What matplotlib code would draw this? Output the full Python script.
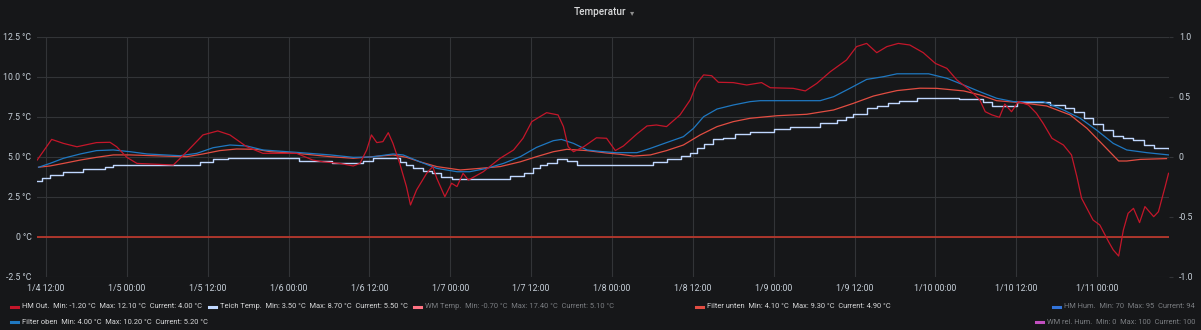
import matplotlib
matplotlib.use("Agg")
import matplotlib.pyplot as plt

# ---------------- data (hours since 1/4 00:00, °C) ----------------
hm_out_t = [10.7, 12.85, 14.6, 16.6, 19.5, 21.5, 22.5, 24.0, 25.5, 30.9, 32.9, 35.3, 37.5, 39.3,
            41.8, 44.2, 49.2, 51.6, 53.1, 55.6, 57.6, 58.6, 59.6, 60.3, 61.1, 62.0, 62.8, 63.5,
            64.5, 65.5, 66.1, 67.0, 68.5, 69.4, 70.0, 71.2, 72.2, 73.0, 73.9, 74.7, 76.9, 79.4,
            81.4, 82.8, 84.1, 85.3, 86.3, 88.0, 88.8, 89.5, 90.3, 91.8, 93.7, 95.2, 96.5, 97.7,
            99.7, 101.2, 102.6, 104.1, 106.1, 107.6, 108.6, 109.6, 110.8, 111.8, 114.0, 116.0,
            118.2, 119.5, 122.9, 124.7, 126.4, 128.4, 130.8, 132.3, 133.8, 135.3, 136.8, 138.5,
            140.2, 142.2, 144.0, 145.7, 147.2, 149.1, 150.6, 151.4, 152.4, 153.5, 154.3, 155.3,
            156.3, 157.8, 159.0, 160.0, 161.3, 163.0, 164.2, 165.0, 165.7, 167.4, 168.4, 169.7,
            170.4, 171.2, 171.9, 172.6, 173.4, 174.3, 175.1, 176.4, 177.1, 178.1, 178.6]
hm_out_v = [4.81, 6.1, 5.85, 5.64, 5.9, 5.92, 5.64, 4.98, 4.6, 4.5, 5.33, 6.38, 6.63, 6.38,
            5.64, 5.23, 5.23, 4.81, 4.7, 4.6, 4.44, 4.6, 5.44, 6.38, 5.9, 5.96, 6.52, 5.85,
            4.6, 3.15, 2.0, 2.94, 3.98, 4.4, 3.67, 2.52, 3.36, 3.15, 3.98, 3.56, 4.08, 4.92,
            5.44, 6.17, 7.21, 7.52, 7.77, 7.63, 6.9, 5.64, 5.33, 5.64, 6.2, 6.17, 5.4, 5.69,
            6.44, 6.94, 7.0, 6.9, 7.63, 8.56, 9.6, 10.13, 10.08, 9.67, 9.65, 9.5,
            9.65, 9.33, 9.29, 9.13, 9.6, 10.33, 11.06, 11.9, 12.1, 11.52, 11.9, 12.1,
            12.0, 11.52, 10.85, 10.54, 9.81, 9.19, 8.56, 7.83, 7.63, 7.48, 8.31, 7.83,
            8.46, 8.25, 7.73, 7.1, 6.17, 5.75, 5.13, 3.77, 2.42, 1.06, 0.75, -0.29,
            -0.81, -1.19, 0.44, 1.48, 1.79, 0.9, 1.9, 1.27, 1.58, 3.15, 3.98]

filter_oben_t = [10.9, 12.6, 14.6, 17.1, 19.5, 22.0, 24.5, 27.0, 31.9, 34.4, 36.8, 39.3, 41.8,
                 44.2, 49.2, 54.2, 57.6, 60.3, 63.5, 65.0, 67.5, 70.0, 73.0, 74.9, 77.4, 79.9,
                 82.4, 84.8, 87.3, 88.5, 90.3, 92.3, 94.2, 96.6, 99.7, 101.7, 104.1, 106.6,
                 108.1, 109.6, 111.6, 114.0, 116.5, 118.0, 126.9, 128.9, 131.3, 133.8, 136.3,
                 138.3, 143.0, 145.7, 148.2, 150.6, 153.1, 155.6, 160.0, 163.0, 165.5, 167.9,
                 170.4, 172.4, 175.4, 178.6]
filter_oben_v = [4.36, 4.6, 4.92, 5.19, 5.4, 5.44, 5.33, 5.19, 5.08, 5.23, 5.58, 5.75, 5.69,
                 5.44, 5.29, 5.13, 4.98, 5.0, 5.19, 5.13, 4.7, 4.29, 4.08, 4.08, 4.29, 4.6,
                 5.02, 5.6, 6.02, 6.1, 5.85, 5.44, 5.35, 5.27, 5.27, 5.54, 5.9, 6.27,
                 6.79, 7.52, 8.0, 8.25, 8.46, 8.52, 8.52, 8.77, 9.29, 9.85, 10.02,
                 10.2, 10.2, 9.92, 9.5, 9.08, 8.67, 8.46, 8.46, 7.94, 7.42, 6.69,
                 5.85, 5.44, 5.27, 5.13]

filter_unten_t = [10.9, 12.6, 14.6, 17.1, 19.5, 22.0, 24.5, 29.4, 32.9, 35.3, 37.8, 40.3, 43.3,
                  45.3, 49.2, 54.2, 57.6, 63.5, 65.5, 67.5, 70.0, 73.5, 76.4, 79.4, 82.4, 84.8,
                  87.3, 89.3, 92.3, 95.2, 97.2, 99.2, 101.7, 104.1, 106.6, 109.1, 111.6, 114.0,
                  116.5, 120.5, 124.9, 128.9, 131.8, 134.8, 136.5, 138.3, 141.7, 144.2, 148.2,
                  150.6, 153.1, 156.6, 160.5, 164.0, 166.5, 168.9, 171.2, 172.4, 174.4, 178.3]
filter_unten_v = [4.36, 4.44, 4.6, 4.81, 4.98, 5.13, 5.13, 5.06, 5.02, 5.19, 5.4, 5.5, 5.48,
                  5.33, 5.23, 5.02, 4.92, 5.13, 4.98, 4.7, 4.4, 4.19, 4.29, 4.4, 4.7, 5.02,
                  5.33, 5.48, 5.4, 5.25, 5.17, 5.06, 5.13, 5.4, 5.75, 6.38, 6.9, 7.21,
                  7.42, 7.58, 7.67, 7.94, 8.35, 8.81, 8.98, 9.15, 9.3, 9.29, 9.13,
                  8.88, 8.52, 8.4, 8.19, 7.63, 6.79, 5.75, 4.75, 4.75, 4.85, 4.9]

teich_t = [10.67, 11.4, 12.6, 14.6, 17.5, 20.8, 22.0, 34.9, 36.8, 39.0, 49.5, 54.5, 59.0, 60.5,
           64.5, 65.5, 66.5, 68.0, 69.3, 70.7, 72.2, 80.9, 82.9, 84.3, 85.3, 86.3, 87.8, 89.3,
           90.8, 102.1, 104.1, 106.3, 107.6, 108.6, 109.6, 111.0, 112.5, 114.3, 116.5, 120.0,
           122.4, 126.9, 129.4, 130.8, 131.8, 133.8, 135.3, 137.0, 138.6, 141.2, 142.2, 147.5,
           151.1, 152.4, 156.1, 161.0, 163.3, 164.5, 166.0, 167.4, 168.9, 170.4, 171.9, 173.4,
           174.9, 176.4, 178.67]
teich_v = [3.52, 3.71, 3.88, 4.04, 4.23, 4.4, 4.5, 4.7, 4.85, 4.92, 4.75, 4.6, 4.75, 4.95,
           4.7, 4.5, 4.33, 4.15, 3.98, 3.73, 3.63, 3.81, 4.02, 4.29, 4.5, 4.65, 4.85, 4.75,
           4.5, 4.7, 4.85, 5.06, 5.27, 5.54, 5.81, 6.1, 6.17, 6.44, 6.58, 6.73,
           6.9, 7.15, 7.31, 7.48, 7.69, 8.04, 8.19, 8.4, 8.52, 8.67, 8.7, 8.6,
           8.46, 8.19, 8.46, 8.25, 8.04, 7.83, 7.42, 7.06, 6.69, 6.31, 6.17, 6.06,
           5.75, 5.54, 5.5]

threshold_value = 0.0

x_ticks = [12, 24, 36, 48, 60, 72, 84, 96, 108, 120, 132, 144, 156, 168]
x_tick_labels = ["1/4 12:00", "1/5 00:00", "1/5 12:00", "1/6 00:00", "1/6 12:00", "1/7 00:00",
                 "1/7 12:00", "1/8 00:00", "1/8 12:00", "1/9 00:00", "1/9 12:00", "1/10 00:00",
                 "1/10 12:00", "1/11 00:00"]
y_ticks = [-2.5, 0, 2.5, 5.0, 7.5, 10.0, 12.5]
y_tick_labels = ["-2.5 °C", "0 °C", "2.5 °C", "5.0 °C", "7.5 °C", "10.0 °C", "12.5 °C"]
y2_ticks = [-1.0, -0.5, 0, 0.5, 1.0]
y2_tick_labels = ["-1.0", "-0.5", "0", "0.5", "1.0"]

legend_rows = [
    # (x dash px, y px, color, name, stats, hidden)
    (11, 307, "#C4162A", "HM Out.", "Min: -1.20 °C  Max: 12.10 °C  Current: 4.00 °C", False),
    (209, 307, "#C0D8FF", "Teich Temp.", "Min: 3.50 °C  Max: 8.70 °C  Current: 5.50 °C", False),
    (414, 307, "#FF7383", "WM Temp.", "Min: -0.70 °C  Max: 17.40 °C  Current: 5.10 °C", True),
    (696, 307, "#E24D42", "Filter unten", "Min: 4.10 °C  Max: 9.30 °C  Current: 4.90 °C", False),
    (11, 322, "#1F78C1", "Filter oben", "Min: 4.00 °C  Max: 10.20 °C  Current: 5.20 °C", False),
]
legend_right = [
    (307, "#3274D9", "HM Hum.", "Min: 70  Max: 95  Current: 94"),
    (322, "#C24FC0", "WM rel. Hum.", "Min: 0  Max: 100  Current: 100"),
]

# ---------------- figure ----------------
W, H = 1201, 330
BG = "#161719"
GRID = "#323437"
TXT = "#c7d0d9"
plt.rcParams["font.family"] = ["Roboto", "DejaVu Sans"]

fig = plt.figure(figsize=(W / 100, H / 100), dpi=100, facecolor=BG)
L, R, T, B = 37, 1169, 37, 277
ax = fig.add_axes([L / W, 1 - B / H, (R - L) / W, (B - T) / H], facecolor=BG)

ax.set_xlim(10.67, 178.67)
ax.set_ylim(-2.5, 12.5)
ax.set_xticks(x_ticks)
ax.set_xticklabels(x_tick_labels)
ax.set_yticks(y_ticks)
ax.set_yticklabels(y_tick_labels)
ax.grid(True, color=GRID, lw=0.8)
ax.set_axisbelow(True)
for s in ax.spines.values():
    s.set_visible(False)
ax.tick_params(axis="both", length=0, colors=TXT, labelsize=6.3, pad=4)
ax.tick_params(axis="x", pad=5)
for lab in ax.get_xticklabels() + ax.get_yticklabels():
    lab.set_color(TXT)

ax.axhline(threshold_value, color="#b7382c", lw=1.3, zorder=2)

ax.plot(teich_t, teich_v, drawstyle="steps-post", color="#C0D8FF", lw=1.0, zorder=3)
ax.plot(filter_unten_t, filter_unten_v, color="#E24D42", lw=0.9, zorder=4)
ax.plot(filter_oben_t, filter_oben_v, color="#1F78C1", lw=0.9, zorder=5)
ax.plot(hm_out_t, hm_out_v, color="#C4162A", lw=0.9, zorder=6)

ax2 = ax.twinx()
ax2.set_ylim(-1.0, 1.0)
ax2.set_yticks(y2_ticks)
ax2.set_yticklabels(y2_tick_labels)
for s in ax2.spines.values():
    s.set_visible(False)
ax2.tick_params(axis="y", length=3, width=0.8, color=GRID, labelcolor=TXT, labelsize=6.3, pad=4)

# title
fig.text(600 / W, 1 - 12 / H, "Temperatur", ha="center", va="center", color="#d8d9da",
         fontsize=7.2, fontweight="medium")
fig.text(632 / W, 1 - 12.5 / H, "▾", ha="center", va="center", color="#8e8e8e", fontsize=6,
         family=["DejaVu Sans"])

# legend
LFS = 5.4
for xd, yp, col, name, stats, hidden in legend_rows:
    fig.add_artist(plt.Line2D([xd / W, (xd + 7) / W], [1 - yp / H, 1 - yp / H], color=col,
                              lw=2.2, transform=fig.transFigure))
    c = "#7b7e82" if hidden else "#d8d9da"
    fig.text((xd + 11) / W, 1 - yp / H, name + "  " + stats, ha="left", va="center",
             color=c, fontsize=LFS)

for yp, col, name, stats in legend_right:
    t = fig.text(1195 / W, 1 - yp / H, name + "  " + stats, ha="right", va="center",
                 color="#7b7e82", fontsize=LFS)
    fig.canvas.draw()
    bb = t.get_window_extent()
    x0 = bb.x0
    fig.add_artist(plt.Line2D([(x0 - 11) / W, (x0 - 4) / W], [1 - yp / H, 1 - yp / H], color=col,
                              lw=2.2, transform=fig.transFigure))

fig.savefig("out.png", dpi=100, facecolor=BG)
